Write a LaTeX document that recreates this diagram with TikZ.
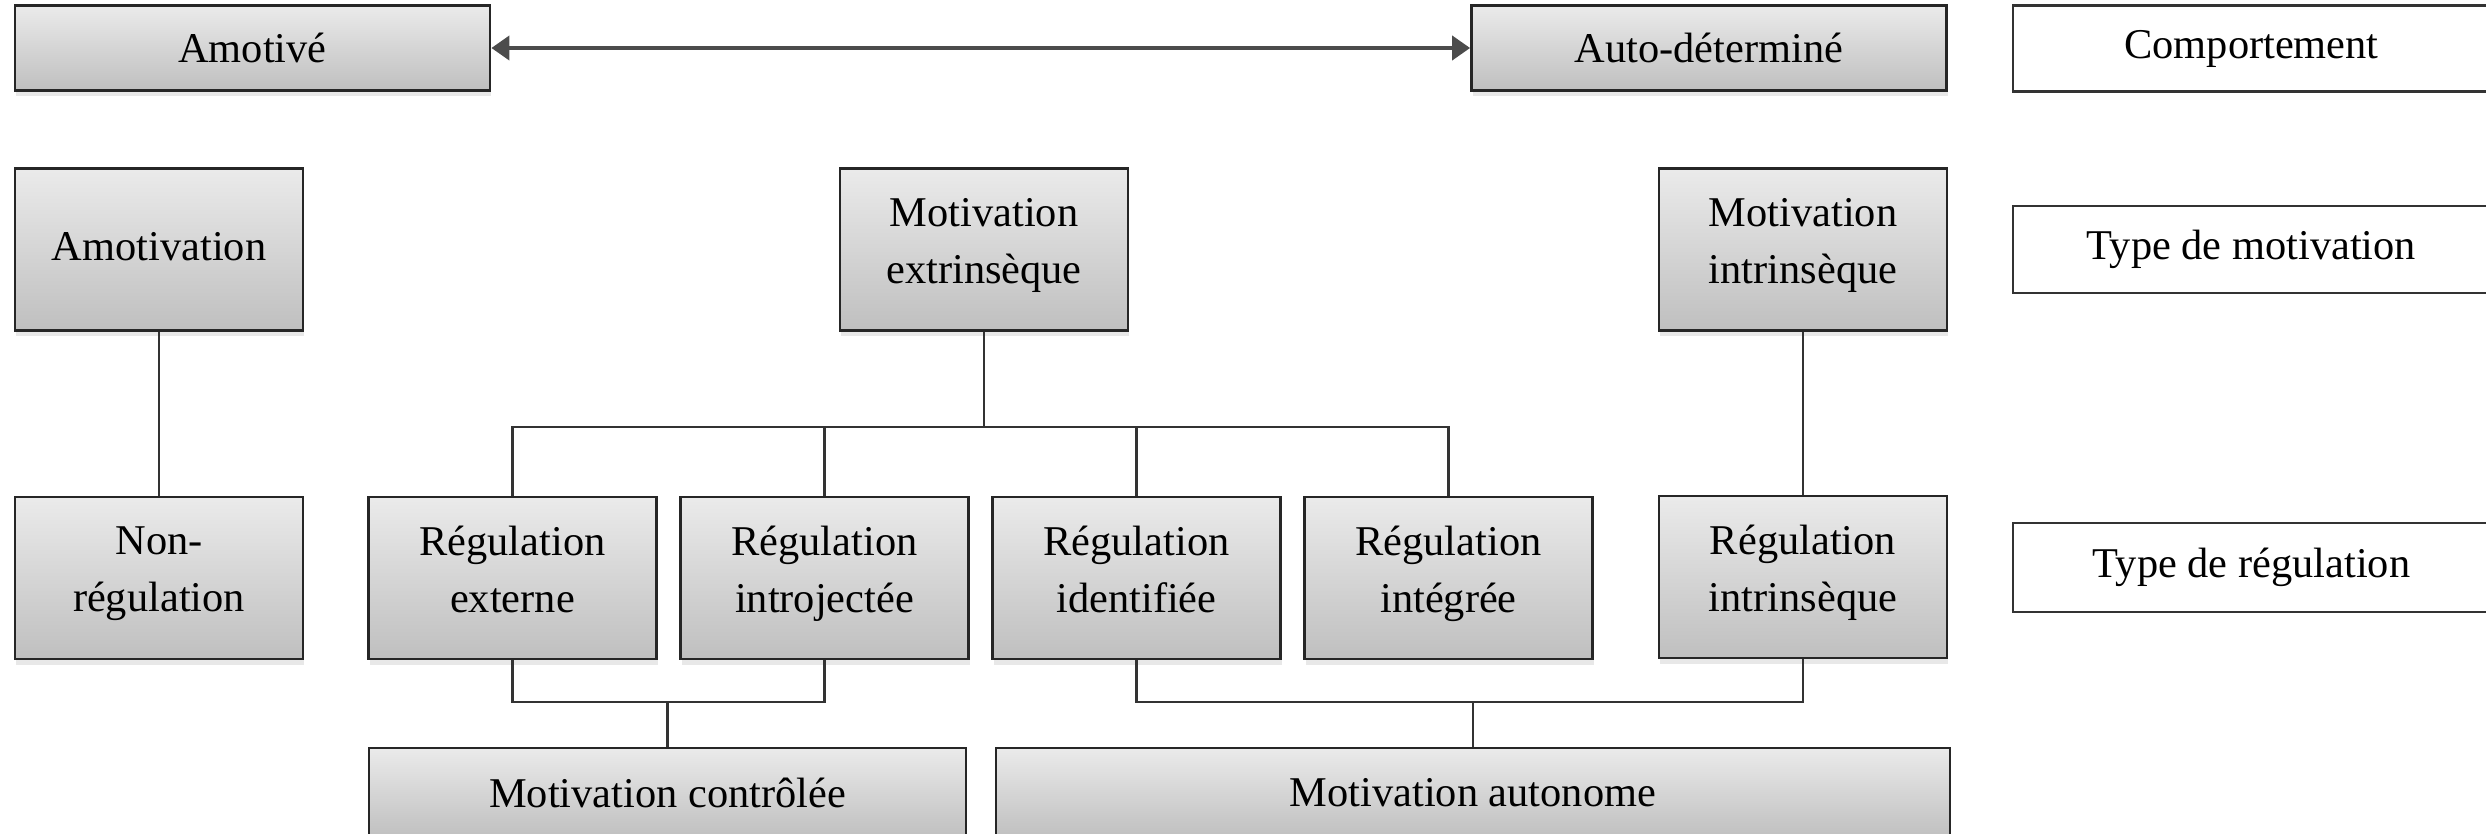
\documentclass[tikz,border=0pt]{standalone}
\usepackage{fontspec}
\setmainfont{Liberation Serif}
\usetikzlibrary{arrows.meta,positioning,shadows}

\begin{document}
\begin{tikzpicture}[x=0.25pt,y=-0.25pt,node distance=5.3pt,
    every node/.style={align=center,inner sep=2pt,font=\fontsize{10.6}{14.2}\selectfont},
    grad/.style={draw=black!85,line width=0.7pt,top color=black!8,bottom color=black!25,
      drop shadow={shadow xshift=0.3pt,shadow yshift=-1.5pt,opacity=0.18}},
    kind/.style={grad,minimum width=72pt,minimum height=40.5pt,
      execute at begin node=\strut,execute at end node=\strut},
    pole/.style={grad,minimum width=118.75pt,minimum height=21.25pt},
    tag/.style={draw=black!80,line width=0.7pt,fill=white,minimum width=119.25pt,minimum height=21.5pt},
    link/.style={draw=black!80,line width=0.65pt}]
      \useasboundingbox (0,0) rectangle (2486,834);

      \node[pole] (amotive) at (252.5,48) {Amotivé};
      \node[pole] (autodet) at (1709,48) {Auto-déterminé};
      \node[tag] (comport) at (2251.5,48.5) {Comportement};

      \node[kind] (amotiv) at (159,249.5) {Amotivation};
      \node[kind] (extrin) at (984,249.5) {Motivation\\extrinsèque};
      \node[kind] (intrin) at (1803,249.5) {Motivation\\intrinsèque};
      \node[tag,minimum height=21.75pt] (typemot) at (2251.5,249.5) {Type de motivation};

      \node[kind] (nonreg) at (159,578) {Non-\\régulation};
      \node[kind] (regext) at (512.5,578) {Régulation\\externe};
      \node[kind,right=of regext] (regintro) {Régulation\\introjectée};
      \node[kind,right=of regintro] (regident) {Régulation\\identifiée};
      \node[kind,right=of regident] (reginteg) {Régulation\\intégrée};
      \node[kind] (regintrin) at (1803,577) {Régulation\\intrinsèque};
      \node[tag,minimum height=22.25pt] (typereg) at (2251.5,567.5) {Type de régulation};

      \node[grad,minimum width=149.25pt,minimum height=22.5pt] (motctrl) at (667.5,793) {Motivation contrôlée};
      \node[grad,minimum width=238.5pt,minimum height=22.5pt] (motauto) at (1473,793) {Motivation autonome};

      \coordinate (fork) at (984,427);
      \coordinate (ctrlbus) at (667.5,702);
      \coordinate (autobus) at (1473,702);

      \draw[{Triangle[length=4.5pt,width=6pt]}-{Triangle[length=4.5pt,width=6pt]},line width=1pt,draw=black!70] (amotive) -- (autodet);
      \draw[link] (amotiv) -- (nonreg);
      \draw[link] (intrin) -- (regintrin);
      \draw[link] (extrin.south) -- (fork);
      \draw[link] (regext.north) |- (fork) -| (reginteg.north);
      \draw[link] (regintro.north) -- (regintro.north |- fork);
      \draw[link] (regident.north) -- (regident.north |- fork);
      \draw[link] (regext.south) |- (ctrlbus) -| (regintro.south);
      \draw[link] (ctrlbus) -- (motctrl);
      \draw[link] (regident.south) |- (autobus) -| (regintrin.south);
      \draw[link] (autobus) -- (motauto);
    \end{tikzpicture}
\end{document}
